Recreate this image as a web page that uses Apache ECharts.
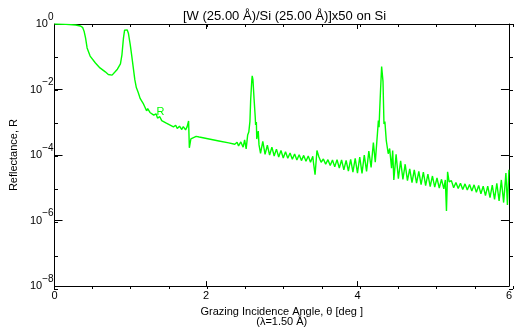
<!DOCTYPE html>
<html>
<head>
<meta charset="utf-8">
<script src="https://cdn.jsdelivr.net/npm/echarts@6/dist/echarts.min.js"></script>
<style>
  html, body { margin: 0; padding: 0; background: #fff; }
  #chart { width: 515px; height: 332px; }
</style>
</head>
<body>
<div id="chart"></div>
<script>
// grazing angle (deg) and log10 of reflectance
var theta = [
  0.00, 0.15, 0.28, 0.34, 0.37, 0.39, 0.41, 0.43, 0.47, 0.54, 0.60, 0.67, 0.71, 0.76, 0.775, 0.80,
  0.83, 0.845, 0.87, 0.89, 0.91, 0.925, 0.94, 0.96, 0.975, 1.00, 1.02, 1.04, 1.06, 1.08, 1.105, 1.13,
  1.15, 1.17, 1.19, 1.215, 1.23, 1.26, 1.28, 1.31, 1.34, 1.36, 1.39, 1.415, 1.44, 1.47, 1.49, 1.52,
  1.545, 1.57, 1.60, 1.62, 1.65, 1.68, 1.70, 1.73, 1.75, 1.77, 1.775, 1.78, 1.80, 1.82, 1.87, 1.91,
  2.04, 2.17, 2.30, 2.38, 2.41, 2.43, 2.46, 2.49, 2.51, 2.53, 2.55, 2.565, 2.58, 2.59, 2.605, 2.61,
  2.62, 2.635, 2.65, 2.655, 2.665, 2.67, 2.69, 2.70,
  2.72, 2.75, 2.78, 2.81, 2.84, 2.87, 2.90, 2.93, 2.96, 2.99, 3.02, 3.05, 3.08, 3.11, 3.14, 3.17,
  3.20, 3.23, 3.26, 3.29, 3.32, 3.35, 3.38, 3.41, 3.42, 3.44, 3.465, 3.49,
  3.52, 3.55, 3.58, 3.61, 3.64, 3.67, 3.70, 3.73, 3.76, 3.79, 3.82, 3.85, 3.88, 3.91, 3.94, 3.97,
  4.00, 4.03, 4.06, 4.09, 4.12, 4.15, 4.18, 4.21, 4.235, 4.263, 4.276, 4.285, 4.293, 4.306, 4.319, 4.337,
  4.350, 4.362, 4.380, 4.395, 4.406, 4.425, 4.45, 4.465,
  4.48, 4.51, 4.54, 4.57, 4.60, 4.63, 4.66, 4.69, 4.72, 4.75, 4.78, 4.81, 4.84, 4.87, 4.90, 4.93,
  4.96, 4.99, 5.02, 5.05, 5.08, 5.11, 5.14, 5.16, 5.175, 5.19, 5.21, 5.24, 5.27, 5.30, 5.33, 5.36,
  5.39, 5.42, 5.45, 5.48, 5.51, 5.54, 5.57, 5.60, 5.63, 5.66, 5.69, 5.72, 5.75, 5.78, 5.81, 5.84,
  5.87, 5.90, 5.93, 5.96, 5.98, 6.00
];
var logR = [
  0.00, -0.01, -0.03, -0.06, -0.10, -0.22, -0.43, -0.73, -0.98, -1.19, -1.34, -1.46, -1.54, -1.56, -1.53, -1.46,
  -1.38, -1.36, -1.22, -0.94, -0.43, -0.19, -0.15, -0.18, -0.28, -0.64, -0.98, -1.34, -1.70, -1.94, -2.09, -2.27,
  -2.25, -2.42, -2.48, -2.65, -2.58, -2.70, -2.64, -2.78, -2.74, -2.87, -2.83, -2.95, -2.91, -3.02, -2.98, -3.08,
  -3.04, -3.14, -3.09, -3.19, -3.12, -3.22, -3.13, -3.23, -3.14, -2.96, -3.36, -3.78, -3.51, -3.45, -3.43, -3.45,
  -3.51, -3.57, -3.63, -3.67, -3.61, -3.72, -3.60, -3.76, -3.54, -3.81, -3.39, -3.30, -2.97, -2.30, -1.70, -1.58,
  -1.70, -2.30, -2.84, -3.08, -2.99, -3.51, -3.27, -3.69,
  -3.95, -3.58, -3.98, -3.70, -4.00, -3.76, -4.03, -3.82, -4.06, -3.86, -4.09, -3.90, -4.10, -3.94, -4.13, -3.97,
  -4.15, -3.99, -4.17, -4.01, -4.19, -4.03, -4.22, -4.04, -4.25, -4.60, -3.86, -4.05,
  -4.22, -4.12, -4.28, -4.14, -4.32, -4.15, -4.36, -4.14, -4.40, -4.15, -4.45, -4.16, -4.49, -4.13, -4.52, -4.10,
  -4.55, -4.06, -4.56, -4.00, -4.50, -3.88, -4.38, -3.62, -4.22, -3.36, -2.95, -3.15, -2.65, -1.95, -1.30, -1.75,
  -3.05, -2.98, -3.55, -3.50, -3.96, -3.80, -4.40, -3.86,
  -4.76, -3.98, -4.72, -4.18, -4.74, -4.28, -4.78, -4.42, -4.84, -4.45, -4.86, -4.50, -4.90, -4.52, -4.93, -4.58,
  -4.96, -4.64, -4.98, -4.70, -5.01, -4.74, -5.03, -4.76, -5.71, -4.51, -4.82, -4.78, -5.00, -4.84, -5.02, -4.86,
  -5.05, -4.88, -5.07, -4.90, -5.10, -4.91, -5.14, -4.93, -5.18, -4.95, -5.24, -4.95, -5.30, -4.92, -5.35, -4.86,
  -5.40, -4.76, -5.45, -4.55, -5.52, -4.45
];
var xRange = [0, 6];
var xMajorStep = 2, xMinorStep = 0.5;
var yDecades = [-8, 0];
var yMajorStep = 2, yMinorStep = 1;
var curveLabel = { text: 'R', theta: 1.40, logR: -2.68 };

var FONT = '"Liberation Sans", Arial, sans-serif';
var GREEN = '#00ff00';
var PLOT = { left: 54, right: 2, top: 24, bottom: 43 };

var data = theta.map(function (t, i) { return [t, Math.pow(10, logR[i])]; });

function expLabel(v) {
  var e = Math.round(Math.log10(v));
  return '{b|10}{s|' + (e < 0 ? '\u2212' + (-e) : e) + '}';
}

// grid 0 holds the major (framed) axes, grid 1 the same box with only minor ticks
function xAxisCfg(pos, minor) {
  var main = pos === 'bottom' && !minor;
  return {
    gridIndex: minor ? 1 : 0,
    type: 'value', position: pos,
    min: xRange[0], max: xRange[1], interval: minor ? xMinorStep : xMajorStep,
    axisLine: { show: !minor, onZero: false, lineStyle: { color: '#000', width: 1 } },
    axisTick: { show: true, inside: true, length: minor ? 3 : 5, lineStyle: { color: '#000' } },
    splitLine: { show: false },
    axisLabel: { show: main, color: '#000', fontSize: 11, fontFamily: FONT, margin: 4 },
    name: main ? 'Grazing Incidence Angle, \u03b8 [deg ]\n(\u03bb=1.50 \u00c5)' : '',
    nameLocation: 'middle', nameGap: 14,
    nameTextStyle: { color: '#000', fontSize: 11, fontFamily: FONT, lineHeight: 10 }
  };
}

function yAxisCfg(pos, minor) {
  var main = pos === 'left' && !minor;
  return {
    gridIndex: minor ? 1 : 0,
    type: 'log', logBase: 10, position: pos,
    min: Math.pow(10, yDecades[0]), max: Math.pow(10, yDecades[1]),
    interval: minor ? yMinorStep : yMajorStep,
    axisLine: { show: !minor, onZero: false, lineStyle: { color: '#000', width: 1 } },
    axisTick: { show: true, inside: true, length: minor ? 4 : 8, lineStyle: { color: '#000' } },
    splitLine: { show: false },
    axisLabel: {
      show: main, margin: 1, formatter: expLabel,
      rich: {
        b: { color: '#000', fontSize: 11, fontFamily: FONT, lineHeight: 24, verticalAlign: 'middle' },
        s: { color: '#000', fontSize: 10, fontFamily: FONT, lineHeight: 10, verticalAlign: 'top' }
      }
    },
    name: main ? 'Reflectance, R' : '',
    nameLocation: 'middle', nameGap: 35,
    nameTextStyle: { color: '#000', fontSize: 11, fontFamily: FONT }
  };
}

var chart = echarts.init(document.getElementById('chart'));
chart.setOption({
  animation: false,
  backgroundColor: '#fff',
  title: {
    text: '[W (25.00 \u00c5)/Si (25.00 \u00c5)]x50 on Si',
    left: 178, top: 5,
    textStyle: { color: '#000', fontSize: 13, fontWeight: 'normal', fontFamily: FONT }
  },
  grid: [
    { left: PLOT.left, right: PLOT.right, top: PLOT.top, bottom: PLOT.bottom },
    { left: PLOT.left, right: PLOT.right, top: PLOT.top, bottom: PLOT.bottom }
  ],
  xAxis: [xAxisCfg('bottom', false), xAxisCfg('top', false), xAxisCfg('bottom', true), xAxisCfg('top', true)],
  yAxis: [yAxisCfg('left', false), yAxisCfg('right', false), yAxisCfg('left', true), yAxisCfg('right', true)],
  series: [{
    type: 'line',
    xAxisIndex: 0, yAxisIndex: 0,
    data: data,
    showSymbol: false,
    lineStyle: { color: GREEN, width: 1.4 },
    itemStyle: { color: GREEN },
    markPoint: {
      symbol: 'circle', symbolSize: 1,
      itemStyle: { color: 'rgba(0,0,0,0)' },
      label: { show: true, position: 'inside', formatter: curveLabel.text, color: GREEN, fontSize: 11, fontFamily: FONT },
      data: [{ coord: [curveLabel.theta, Math.pow(10, curveLabel.logR)] }]
    }
  }]
});
</script>
</body>
</html>
